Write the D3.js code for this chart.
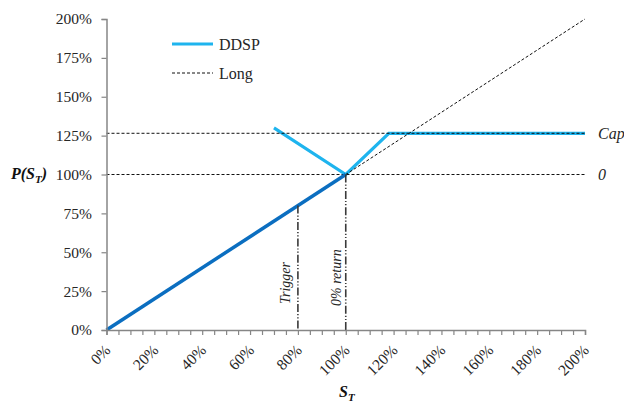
<!DOCTYPE html>
<html>
<head>
<meta charset="utf-8">
<script src="https://cdn.jsdelivr.net/npm/d3@7"></script>
<style>
  html, body { margin: 0; padding: 0; background: #fff; }
</style>
</head>
<body>
<svg id="chart" width="624" height="402"></svg>
<script>
// ---- data ----
const xTickValues = d3.range(0, 201, 5);
const xLabelValues = [0, 20, 40, 60, 80, 100, 120, 140, 160, 180, 200];
const xTickLabels = ["0%", "20%", "40%", "60%", "80%", "100%", "120%", "140%", "160%", "180%", "200%"];
const yTickValues = [0, 25, 50, 75, 100, 125, 150, 175, 200];
const yTickLabels = ["0%", "25%", "50%", "75%", "100%", "125%", "150%", "175%", "200%"];

const longX = [0, 200];
const longY = [0, 200];
const ddspX = [70, 100, 118, 200];
const ddspY = [130, 100, 126.5, 126.5];
const lowerX = [0, 100];
const lowerY = [0, 100];
const capLevel = 126.5;
const zeroLevel = 100;
const triggerS = 80;
const returnS = 100;

// ---- layout ----
const FONT = "Liberation Serif";
const svg = d3.select("#chart");
const x = d3.scaleLinear().domain([0, 200]).range([106.5, 585]);
const y = d3.scaleLinear().domain([0, 200]).range([330, 19]);
const axisColor = "#868686";
const textColor = "#262626";

const line = d3.line().x(d => x(d[0])).y(d => y(d[1]));
const zip = (a, b) => a.map((v, i) => [v, b[i]]);

// light blue DDSP
svg.append("path").attr("d", line(zip(ddspX, ddspY)))
  .attr("fill", "none").attr("stroke", "#1EB4EE").attr("stroke-width", 3.2)
  .attr("stroke-linejoin", "miter");

// horizontal reference lines
[capLevel, zeroLevel].forEach(v => {
  svg.append("path").attr("d", line([[0, v], [200, v]]))
    .attr("fill", "none").attr("stroke", "#111").attr("stroke-width", 1)
    .attr("stroke-dasharray", "3,2");
});

// Long diagonal
svg.append("path").attr("d", line(zip(longX, longY)))
  .attr("fill", "none").attr("stroke", "#111").attr("stroke-width", 1)
  .attr("stroke-dasharray", "3,2");

// dark blue lower segment
svg.append("path").attr("d", line(zip(lowerX, lowerY)))
  .attr("fill", "none").attr("stroke", "#0B6EC0").attr("stroke-width", 3.5);

// vertical dash-dot-dot lines
[[triggerS, triggerS], [returnS, zeroLevel]].forEach(([s, top]) => {
  svg.append("path").attr("d", line([[s, top], [s, 0]]))
    .attr("fill", "none").attr("stroke", "#3a3a3a").attr("stroke-width", 1.6)
    .attr("stroke-dasharray", "8,2,1.2,2,1.2,2");
});

// axes
const gx = svg.append("g").attr("transform", `translate(0,${y(0)})`)
  .call(d3.axisBottom(x).tickValues(xTickValues).tickSize(5).tickFormat(""));
gx.select(".domain").attr("stroke", axisColor).attr("stroke-width", 1.5);
gx.selectAll(".tick line").attr("stroke", axisColor).attr("stroke-width", 1.2);

const gy = svg.append("g").attr("transform", `translate(${x(0)},0)`)
  .call(d3.axisLeft(y).tickValues(yTickValues).tickSize(5).tickFormat(""));
gy.select(".domain").attr("stroke", axisColor).attr("stroke-width", 1.5);
gy.selectAll(".tick line").attr("stroke", axisColor).attr("stroke-width", 1.2);

// y tick labels
svg.append("g").selectAll("text").data(yTickValues).join("text")
  .attr("font-family", FONT)
  .attr("x", 92).attr("y", d => y(d)).attr("dy", "0.35em")
  .attr("text-anchor", "end").attr("font-size", 15.5).attr("fill", textColor)
  .text((d, i) => yTickLabels[i]);

// x tick labels (rotated)
svg.append("g").selectAll("text").data(xLabelValues).join("text")
  .attr("font-family", FONT)
  .attr("transform", d => `translate(${x(d) + 5},${y(0) + 21}) rotate(-45)`)
  .attr("text-anchor", "end").attr("font-size", 15.5).attr("fill", textColor)
  .text((d, i) => xTickLabels[i]);

// axis titles
const yt = svg.append("text").attr("font-family", FONT).attr("x", 11).attr("y", 179)
  .attr("font-size", 16).attr("font-weight", "bold").attr("font-style", "italic").attr("fill", "#111");
yt.append("tspan").text("P(S");
yt.append("tspan").attr("font-size", 11).attr("dy", 4).text("T");
yt.append("tspan").attr("dy", -4).text(")");

const xt = svg.append("text").attr("font-family", FONT).attr("x", 339).attr("y", 397)
  .attr("font-size", 16).attr("font-weight", "bold").attr("font-style", "italic").attr("fill", "#111");
xt.append("tspan").text("S");
xt.append("tspan").attr("font-size", 11).attr("dy", 4).text("T");

// right labels
svg.append("text").attr("font-family", FONT).attr("x", 598).attr("y", y(capLevel)).attr("dy", "0.35em")
  .attr("font-size", 16).attr("font-style", "italic").attr("fill", textColor).text("Cap");
svg.append("text").attr("font-family", FONT).attr("x", 598).attr("y", y(zeroLevel)).attr("dy", "0.35em")
  .attr("font-size", 16).attr("font-style", "italic").attr("fill", textColor).text("0");

// vertical labels
svg.append("text").attr("font-family", FONT).attr("transform", `translate(290,304) rotate(-90)`)
  .attr("font-size", 14).attr("font-style", "italic").attr("fill", textColor).text("Trigger");
svg.append("text").attr("font-family", FONT).attr("transform", `translate(340.5,306) rotate(-90)`)
  .attr("font-size", 14).attr("font-style", "italic").attr("fill", textColor).text("0% return");

// legend
svg.append("line").attr("x1", 172).attr("x2", 213).attr("y1", 44).attr("y2", 44)
  .attr("stroke", "#1EB4EE").attr("stroke-width", 3.2);
svg.append("text").attr("font-family", FONT).attr("x", 219).attr("y", 44).attr("dy", "0.35em")
  .attr("font-size", 16).attr("fill", textColor).text("DDSP");
svg.append("line").attr("x1", 172).attr("x2", 213).attr("y1", 73).attr("y2", 73)
  .attr("stroke", "#111").attr("stroke-width", 1).attr("stroke-dasharray", "3,2");
svg.append("text").attr("font-family", FONT).attr("x", 219).attr("y", 73).attr("dy", "0.35em")
  .attr("font-size", 16).attr("fill", textColor).text("Long");
</script>
</body>
</html>
